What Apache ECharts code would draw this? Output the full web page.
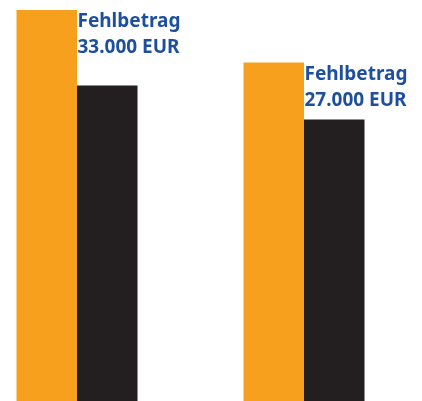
<!DOCTYPE html>
<html>
<head>
<meta charset="utf-8">
<script src="https://cdn.jsdelivr.net/npm/echarts@6/dist/echarts.min.js"></script>
<style>
html, body { margin: 0; padding: 0; background: #fff; }
#chart { width: 422px; height: 401px; }
</style>
</head>
<body>
<div id="chart"></div>
<script>
// values (no axis shown, relative scale 0..100)
const categories = ['A', 'B']
const orangeValues = [97.5, 84.4]
const blackValues = [78.7, 70.2]
const labelTexts = ['Fehlbetrag\n33.000 EUR', 'Fehlbetrag\n27.000 EUR']

const chart = echarts.init(document.getElementById('chart'))

const option = {
  animation: false,
  // categories sit on the grid edges (boundaryGap false), so left/right set the group centres
  grid: { left: 77, right: 118, top: 0, bottom: 0 },
  xAxis: {
    type: 'category',
    data: categories,
    boundaryGap: false,
    show: false
  },
  yAxis: {
    type: 'value',
    min: 0,
    max: 100,
    show: false
  },
  series: [
    {
      type: 'bar',
      barWidth: 60.5,
      barGap: '0%',
      itemStyle: { color: '#f7a01e' },
      data: orangeValues,
      label: {
        show: true,
        position: [61, -1],
        align: 'left',
        verticalAlign: 'top',
        formatter: (p) => labelTexts[p.dataIndex],
        color: '#1e4f9e',
        fontFamily: 'Noto Sans',
        fontWeight: 'bold',
        fontSize: 19,
        lineHeight: 26
      }
    },
    {
      type: 'bar',
      barWidth: 60.5,
      itemStyle: { color: '#231f20' },
      data: blackValues
    }
  ]
}

chart.setOption(option)
</script>
</body>
</html>
